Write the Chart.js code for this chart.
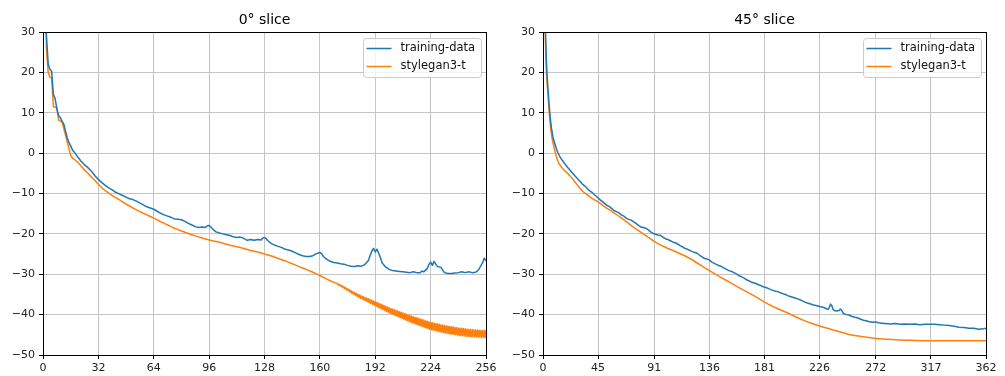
<!DOCTYPE html>
<html><head><meta charset="utf-8">
<script src="https://cdn.jsdelivr.net/npm/chart.js@4.4.1/dist/chart.umd.min.js"></script>
<style>
html,body{margin:0;padding:0;background:#fff;width:1005px;height:376px;overflow:hidden}
canvas{position:absolute;top:0}
#c0{left:0}
#c45{left:500px}
</style></head><body>
<canvas id="c0" width="500" height="376"></canvas>
<canvas id="c45" width="505" height="376"></canvas>
<script>
// ---------- data ----------
const seriesNames = ['training-data', 'stylegan3-t'];
const yTicks = [-50, -40, -30, -20, -10, 0, 10, 20, 30];
const slice0Ticks = [0, 32, 64, 96, 128, 160, 192, 224, 256];
const slice45Ticks = [0, 45, 91, 136, 181, 226, 272, 317, 362];

const slice0TrainX = [
  0,1,2,3,4,5,6,7,8,9,10,11,12,13,14,15,16,17,18,19,20,
  22,24,26,28,30,32,34,36,38,40,42,44,46,48,50,52,54,56,58,60,62,64,66,68,70,72,74,76,78,80,82,84,86,88,90,92,94,
  95,96,97,98,
  100,102,104,106,108,110,112,114,116,118,120,122,124,126,
  127,128,129,
  130,132,134,136,138,140,142,144,146,148,150,152,154,156,158,160,
  161,
  162,164,166,168,170,172,174,176,178,180,182,184,186,188,
  189,190,191,192,193,194,195,
  196,198,200,202,204,206,208,210,212,214,216,218,
  219,220,
  222,223,224,225,226,227,
  228,
  230,231,232,
  234,236,238,240,242,244,246,248,250,
  251,252,253,254,255,256];
const slice0TrainY = [
  70,45,29,22,20.8,20.3,14.5,13.5,11,9.3,8.8,7.9,7.2,5.5,3.8,2.6,1.8,0.8,0.3,-0.3,-0.9,
  -2.0,-2.9,-3.6,-4.5,-5.6,-6.5,-7.3,-8.0,-8.6,-9.1,-9.7,-10.1,-10.5,-10.9,-11.3,-11.5,-11.9,-12.4,-12.8,-13.3,-13.6,-13.9,-14.4,-14.9,-15.3,-15.6,-15.9,-16.3,-16.4,-16.5,-16.9,-17.4,-17.8,-18.2,-18.4,-18.3,-18.4,
  -18.0,-17.9,-18.3,-18.8,
  -19.5,-19.8,-20.0,-20.2,-20.4,-20.7,-20.9,-20.8,-21.1,-21.6,-21.4,-21.6,-21.4,-21.5,
  -21.0,-20.9,-21.2,
  -21.7,-22.4,-22.8,-23.1,-23.4,-23.8,-24.0,-24.3,-24.7,-25.1,-25.4,-25.6,-25.6,-25.4,-24.9,-24.6,
  -24.9,
  -25.6,-26.3,-26.8,-27.1,-27.2,-27.4,-27.5,-27.8,-28.0,-28.1,-27.9,-28.0,-27.6,-26.6,
  -25.4,-24.3,-23.6,-24.5,-23.8,-24.8,-25.9,
  -27.2,-28.2,-28.8,-29.1,-29.2,-29.3,-29.4,-29.5,-29.6,-29.4,-29.6,-29.6,
  -29.2,-29.4,
  -28.6,-27.6,-27.0,-27.8,-26.8,-27.5,
  -28.1,
  -28.3,-29.0,-29.6,
  -29.8,-29.8,-29.7,-29.6,-29.4,-29.6,-29.4,-29.6,-29.5,
  -29.2,-28.7,-27.9,-27.2,-26.0,-26.7];

const slice0GanX = [
  0,1,2,3,4,5,6,7,8,9,10,11,12,13,14,15,16,17,18,19,20,
  22,24,26,28,30,32,34,36,38,40,
  44,48,52,56,60,64,68,72,76,80,84,88,92,96,100,104,108,112,116,120,124,128,132,136,140,144,148,152,156,160,164,168,
  170,170.5,171,171.5,172,172.5,173,173.5,174,174.5,175,175.5,176,176.5,177,177.5,178,178.5,179,179.5,
  180,180.5,181,181.5,182,182.5,183,183.5,184,184.5,185,185.5,186,186.5,187,187.5,188,188.5,189,189.5,
  190,190.5,191,191.5,192,192.5,193,193.5,194,194.5,195,195.5,
  196,196.5,197,197.5,198,198.5,199,199.5,
  200,200.5,201,201.5,202,202.5,203,203.5,204,204.5,205,205.5,206,206.5,207,207.5,208,208.5,209,209.5,
  210,210.5,211,211.5,212,212.5,213,213.5,214,214.5,215,215.5,216,216.5,217,217.5,218,218.5,219,219.5,
  220,220.5,221,221.5,222,222.5,223,223.5,224,224.5,225,225.5,226,226.5,227,227.5,228,228.5,229,229.5,
  230,230.5,231,231.5,232,232.5,233,233.5,234,234.5,235,235.5,236,236.5,237,237.5,238,238.5,239,239.5,
  240,240.5,241,241.5,242,242.5,243,243.5,244,244.5,245,245.5,246,246.5,247,247.5,248,248.5,249,249.5,
  250,250.5,251,251.5,252,252.5,253,253.5,254,254.5,255,255.5,256];
const slice0GanY = [
  70,45,26,20,18.8,18.6,11.5,11.4,11.2,8.2,7.9,7.7,6.2,4.5,2.8,1.2,-0.6,-1.2,-1.5,-1.9,-2.2,
  -3.2,-4.2,-5.0,-5.9,-6.8,-7.7,-8.6,-9.3,-9.9,-10.5,
  -11.5,-12.6,-13.6,-14.5,-15.3,-16.1,-17.0,-17.8,-18.6,-19.3,-19.9,-20.5,-21.0,-21.5,-21.9,-22.3,-22.8,-23.2,-23.6,-24.1,-24.5,-25.0,-25.5,-26.1,-26.7,-27.4,-28.1,-28.8,-29.5,-30.3,-31.2,-32.0,
  -32.28,-32.63,-32.46,-32.84,-32.65,-33.09,-32.88,-33.36,-33.12,-33.62,-33.35,-33.89,-33.58,-34.15,-33.82,-34.42,-34.05,-34.68,-34.29,-34.95,
  -34.52,-35.20,-34.72,-35.44,-34.94,-35.68,-35.15,-35.93,-35.36,-36.15,-35.54,-36.37,-35.72,-36.59,-35.90,-36.80,-36.09,-37.02,-36.27,-37.24,
  -36.45,-37.46,-36.63,-37.68,-36.80,-37.90,-36.99,-38.11,-37.18,-38.33,-37.36,-38.54,
  -37.55,-38.76,-37.74,-38.97,-37.92,-39.18,-38.11,-39.39,
  -38.30,-39.60,-38.46,-39.78,-38.62,-39.98,-38.78,-40.17,-38.94,-40.36,-39.10,-40.55,-39.26,-40.74,-39.42,-40.93,-39.58,-41.12,-39.74,-41.30,
  -39.90,-41.50,-40.07,-41.68,-40.23,-41.86,-40.37,-42.02,-40.51,-42.18,-40.65,-42.34,-40.79,-42.50,-40.93,-42.66,-41.07,-42.82,-41.21,-42.98,
  -41.35,-43.13,-41.49,-43.29,-41.64,-43.45,-41.78,-43.60,-41.93,-43.73,-42.02,-43.83,-42.12,-43.94,-42.21,-44.04,-42.31,-44.15,-42.40,-44.25,
  -42.50,-44.35,-42.60,-44.45,-42.70,-44.54,-42.78,-44.61,-42.85,-44.69,-42.93,-44.76,-43.00,-44.84,-43.08,-44.91,-43.15,-44.99,-43.23,-45.06,
  -43.30,-45.13,-43.35,-45.18,-43.40,-45.23,-43.45,-45.28,-43.50,-45.33,-43.55,-45.38,-43.60,-45.43,-43.65,-45.48,-43.70,-45.51,-43.73,-45.54,
  -43.75,-45.56,-43.78,-45.59,-43.80,-45.62,-43.84,-45.66,-43.88,-45.69,-43.91,-45.73,-43.95];

const slice45TrainX = [
  0,1,2,3,4,5,6,7,8,9,10,11,12,13,
  14,16,18,20,22,24,26,28,30,32,
  34,36,38,40,42,44,46,48,50,52,
  54,56,58,60,62,64,66,68,70,72,
  74,76,78,80,82,84,86,88,90,92,
  94,96,98,100,102,104,106,108,110,112,
  114,116,118,120,122,124,126,128,130,132,
  134,136,138,140,142,144,146,148,150,152,
  154,156,158,160,162,164,166,168,170,172,
  174,176,178,180,182,184,186,188,190,192,
  194,196,198,200,202,204,206,208,210,212,
  214,216,218,220,222,224,226,228,230,232,
  233,234,235,236,237,238,240,242,243,244,245,246,248,
  250,252,254,256,258,260,262,264,266,268,270,272,274,276,278,280,
  284,288,292,296,300,304,308,312,316,320,324,328,332,336,340,344,348,352,356,360,
  362];
const slice45TrainY = [
  70,45,30,21,16,12,8.5,6,4.2,3.0,2.0,1.0,0.2,-0.4,
  -1.0,-1.9,-2.7,-3.5,-4.2,-4.9,-5.6,-6.3,-6.9,-7.6,
  -8.1,-8.7,-9.3,-9.7,-10.3,-10.8,-11.4,-11.9,-12.4,-12.9,
  -13.2,-13.7,-14.2,-14.5,-14.8,-15.3,-15.6,-16.1,-16.4,-16.6,
  -17.0,-17.4,-17.9,-18.3,-18.4,-18.6,-19.0,-19.5,-19.9,-20.1,
  -20.3,-20.4,-20.8,-21.2,-21.4,-21.7,-22.0,-22.2,-22.5,-22.9,
  -23.2,-23.6,-23.8,-24.1,-24.4,-24.6,-24.8,-25.3,-25.7,-26.1,
  -26.2,-26.5,-27.0,-27.3,-27.6,-27.9,-28.1,-28.5,-28.8,-29.1,
  -29.3,-29.6,-29.9,-30.3,-30.6,-30.9,-31.3,-31.6,-31.9,-32.1,
  -32.3,-32.6,-32.8,-33.1,-33.3,-33.5,-33.8,-34.0,-34.2,-34.3,
  -34.6,-34.8,-35.0,-35.3,-35.5,-35.7,-35.9,-36.1,-36.3,-36.6,
  -36.9,-37.1,-37.3,-37.5,-37.7,-37.8,-38.0,-38.1,-38.3,-38.6,
  -38.7,-38.2,-37.4,-37.8,-38.7,-39.0,-39.1,-39.0,-38.6,-38.9,-39.5,-39.8,-40.0,
  -40.1,-40.4,-40.6,-40.7,-40.9,-41.2,-41.4,-41.5,-41.7,-41.8,-41.9,-41.8,-42.0,-42.1,-42.2,-42.2,
  -42.3,-42.2,-42.4,-42.3,-42.4,-42.3,-42.5,-42.4,-42.4,-42.4,-42.5,-42.6,-42.7,-42.9,-43.1,-43.2,-43.4,-43.4,-43.6,-43.5,
  -43.4];

const slice45GanX = [
  0,1,2,3,4,5,6,7,8,9,10,11,12,13,14,
  16,18,20,22,24,26,28,30,32,36,40,
  45,50,55,60,65,70,75,80,85,91,
  100,110,120,128,136,145,152,160,170,181,190,200,212,220,226,235,243,250,260,272,282,292,305,317,340,362];
const slice45GanY = [
  70,45,28,19,15,10.5,7,4.5,2.8,1.4,0.2,-0.9,-1.8,-2.5,-3.0,
  -3.8,-4.4,-5.0,-5.6,-6.3,-7.1,-7.9,-8.6,-9.3,-10.3,-11.2,
  -12.1,-13.2,-14.2,-15.2,-16.3,-17.4,-18.6,-19.6,-20.6,-21.9,
  -23.3,-24.6,-26.1,-27.6,-29.1,-30.7,-31.9,-33.3,-34.9,-36.9,-38.3,-39.6,-41.3,-42.2,-42.8,-43.6,-44.3,-44.9,-45.4,-45.9,-46.1,-46.3,-46.4,-46.5,-46.5,-46.5];

// ---------- chart ----------
Chart.defaults.font.family = "'DejaVu Sans', sans-serif";
Chart.defaults.color = '#222';

const BLUE = '#1f77b4', ORANGE = '#ff7f0e';

function pts(xs, ys) { return xs.map((x, i) => ({ x: x, y: ys[i] })); }

const frameLegend = {
  id: 'frameLegend',
  afterDatasetsDraw(chart) {
    const ctx = chart.ctx, a = chart.chartArea;
    ctx.save();
    ctx.strokeStyle = '#000';
    ctx.lineWidth = 1;
    const l = Math.floor(a.left) + 0.5, r = Math.floor(a.right) + 0.5;
    const t = Math.floor(a.top) + 0.5, b = Math.floor(a.bottom) + 0.5;
    ctx.strokeRect(l, t, r - l, b - t);
    // legend box
    const bx = Math.floor(a.right) - 123 + 0.5, by = Math.floor(a.top) + 6 + 0.5, bw = 118, bh = 39;
    ctx.beginPath();
    if (ctx.roundRect) ctx.roundRect(bx, by, bw, bh, 3); else ctx.rect(bx, by, bw, bh);
    ctx.fillStyle = 'rgba(255,255,255,0.8)';
    ctx.fill();
    ctx.strokeStyle = '#cccccc';
    ctx.stroke();
    chart.data.datasets.forEach((ds, i) => {
      const y = by + 10 + i * 18;
      ctx.beginPath();
      ctx.strokeStyle = ds.borderColor;
      ctx.lineWidth = 1.5;
      ctx.moveTo(bx + 3, y);
      ctx.lineTo(bx + 28, y);
      ctx.stroke();
      ctx.fillStyle = '#111';
      ctx.font = "11.5px 'DejaVu Sans', sans-serif";
      ctx.textBaseline = 'middle';
      ctx.textAlign = 'left';
      ctx.fillText(ds.label, bx + 37, y);
    });
    ctx.restore();
  }
};

function makeChart(id, title, trainX, trainY, ganX, ganY, xTicks, padRight, ganSmooth) {
  return new Chart(document.getElementById(id), {
    type: 'line',
    data: {
      datasets: [
        { label: seriesNames[0], data: pts(trainX, trainY), borderColor: BLUE, backgroundColor: BLUE,
          borderWidth: 1.5, pointRadius: 0, tension: 0, fill: false, borderJoinStyle: 'round' },
        { label: seriesNames[1], data: pts(ganX, ganY), borderColor: ORANGE, backgroundColor: ORANGE,
          borderWidth: 1.5, pointRadius: 0, fill: false, borderJoinStyle: 'round', borderCapStyle: 'round',
          tension: ganSmooth ? 0 : 0.001,
          cubicInterpolationMode: ganSmooth ? 'monotone' : 'default' }
      ]
    },
    options: {
      responsive: false,
      animation: false,
      devicePixelRatio: 1,
      events: [],
      layout: { padding: { left: 0, right: padRight, top: 0, bottom: 0 } },
      plugins: {
        legend: { display: false },
        tooltip: { enabled: false },
        title: {
          display: true, text: title, fullSize: false, color: '#000',
          font: { size: 14, weight: 'normal' },
          padding: { top: 12, bottom: 3.2 }
        }
      },
      scales: {
        x: {
          type: 'linear', min: xTicks[0], max: xTicks[xTicks.length - 1],
          afterBuildTicks: (s) => { s.ticks = xTicks.map(v => ({ value: v })); },
          afterFit: (s) => { s.height = 21; },
          grid: { color: '#c4c4c4', lineWidth: 1, drawTicks: true, tickLength: 4, tickColor: '#000', tickWidth: 1 },
          border: { display: true, color: '#000', width: 1 },
          ticks: { autoSkip: false, maxRotation: 0, padding: 3, color: '#222', font: { size: 11 },
            callback: (v) => String(v) }
        },
        y: {
          type: 'linear', min: -50, max: 30,
          afterBuildTicks: (s) => { s.ticks = yTicks.map(v => ({ value: v })); },
          afterFit: (s) => { s.width = 43; },
          grid: { color: '#c4c4c4', lineWidth: 1, drawTicks: true, tickLength: 4, tickColor: '#000', tickWidth: 1 },
          border: { display: true, color: '#000', width: 1 },
          ticks: { autoSkip: false, padding: 4, color: '#222', font: { size: 11 },
            callback: (v) => String(v).replace('-', '\u2212') }
        }
      }
    },
    plugins: [frameLegend]
  });
}

makeChart('c0', '0\u00b0 slice', slice0TrainX, slice0TrainY, slice0GanX, slice0GanY, slice0Ticks, 14, false);
makeChart('c45', '45\u00b0 slice', slice45TrainX, slice45TrainY, slice45GanX, slice45GanY, slice45Ticks, 19, true);
</script>
</body></html>
